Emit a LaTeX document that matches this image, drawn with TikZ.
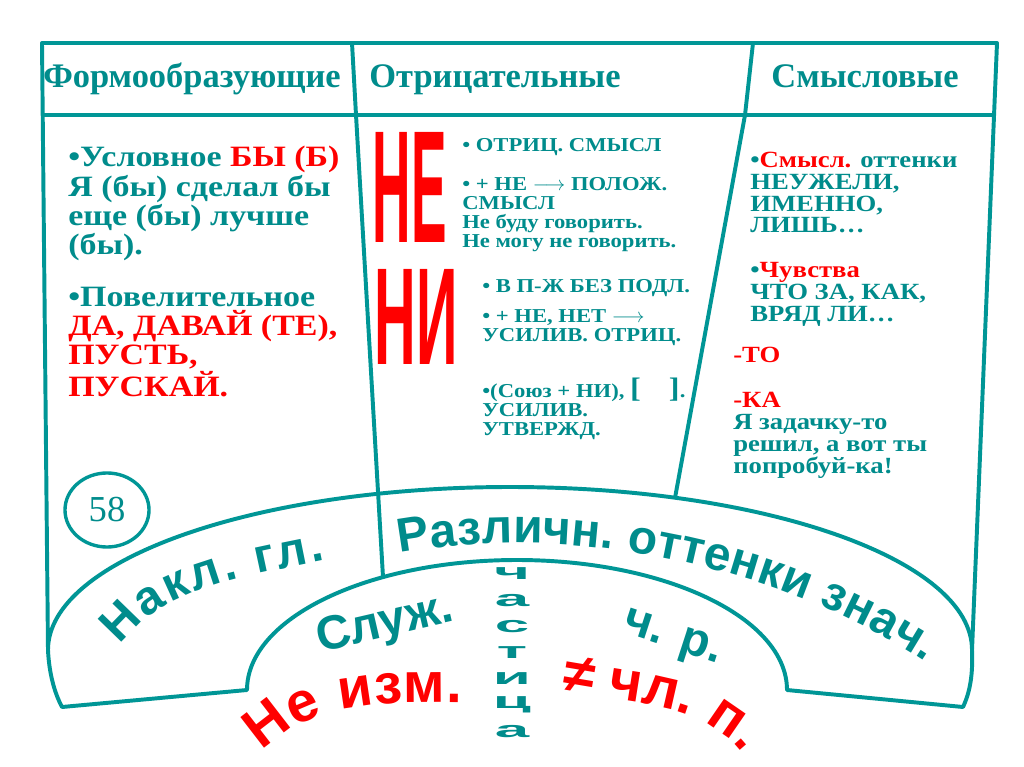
\documentclass[tikz,border=0pt]{standalone}
\usepackage{graphicx}
\usepackage{fontspec}
\setmainfont{Liberation Serif}
\setsansfont{Liberation Sans}
\newfontfamily\wideserif{Liberation Serif}[FakeStretch=1.15]
\usetikzlibrary{shapes.geometric}
\usetikzlibrary{decorations.text}
\definecolor{tealline}{RGB}{0,150,150}
\definecolor{tealtext}{RGB}{0,140,140}
\newcommand{\redw}[1]{\textcolor{red}{#1}}
\newcommand{\tealarc}{\color{tealtext}\sffamily\bfseries\fontsize{34}{34}\selectfont}
\newcommand{\redarc}{\color{red}\sffamily\bfseries\fontsize{40}{40}\selectfont}
\tikzset{
    frame/.style = {draw=tealline, line width=2.8pt, line join=round},
    head/.style = {text=tealtext, anchor=base, inner sep=0pt, font=\bfseries\fontsize{24.5}{26}\selectfont},
    body/.style = {text=tealtext, align=left, anchor=base west, inner sep=0pt},
    bigbody/.style = {body, font=\wideserif\bfseries\fontsize{21}{20.9}\selectfont},
    midbody/.style = {body, font=\wideserif\bfseries\fontsize{14}{13.5}\selectfont},
    rightbody/.style = {body, font=\wideserif\bfseries\fontsize{16.5}{15.5}\selectfont},
    bigletters/.style = {text=red, inner sep=0pt, font=\sffamily\bfseries},
    numcircle/.style = {ellipse, draw=tealline, line width=2.4pt, text=tealtext, inner sep=0pt,
        minimum width=2.1cm, minimum height=1.85cm, font=\fontsize{26}{26}\selectfont},
    arcword/.style = {text=tealtext, inner sep=0pt, font=\sffamily\bfseries\fontsize{34}{34}\selectfont},
    stackletter/.style = {text=tealtext, inner sep=0pt, font=\sffamily\bfseries\fontsize{20}{20}\selectfont}
}
\begin{document}
\begin{tikzpicture}[x=0.025cm, y=0.025cm]
\useasboundingbox (0,0) rectangle (1024,-767);
\fill[white] (0,0) rectangle (1024,-767);

% frame, header line, columns
\draw[frame] (48,-650) -- (42,-43) -- (997,-43) -- (972,-650);
\draw[frame] (42,-115) -- (995,-115);
\draw[frame] (352,-43) -- (356,-115) -- (383,-577);
\draw[frame] (753,-43) -- (745,-115) -- (675,-498);

% band at the bottom
\draw[frame] (48,-650) arc[start angle=180, end angle=0, x radius=462, y radius=163]
    .. controls (973,-675) and (970,-692) .. (963,-707) -- (787,-690)
    arc[start angle=0, end angle=180, x radius=270, y radius=130]
    -- (62,-707) .. controls (54,-692) and (49,-672) .. cycle;

% headers
\node[head] (formhead) at (192,-88) {Формообразующие};
\node[head] (neghead) at (495,-88) {Отрицательные};
\node[head] (senshead) at (865,-88) {Смысловые};

% left column (anchor = baseline of the last line)
\node[bigbody] (cond) at (68,-255) {•Условное \redw{БЫ (Б)}\\Я (бы) сделал бы\\еще (бы) лучше\\(бы).};
\node[bigbody] (imper) at (68,-396) {•Повелительное\\\redw{ДА, ДАВАЙ (ТЕ),}\\\redw{ПУСТЬ,}\\\redw{ПУСКАЙ.}};
\node[numcircle] (pagenum) at (107,-510) {58};

% middle column
\node[bigletters] (ne) at (410,-187) {\resizebox{1.85cm}{2.75cm}{НЕ}};
\node[bigletters] (ni) at (416,-317) {\resizebox{2.075cm}{2.375cm}{НИ}};
\node[midbody] (negsense) at (462,-152) {• ОТРИЦ. СМЫСЛ};
\node[midbody] (possense) at (462,-247) {• + НЕ $\longrightarrow$ ПОЛОЖ.\\СМЫСЛ\\Не буду говорить.\\Не могу не говорить.};
\node[midbody] (nosubj) at (482,-292) {• В П-Ж БЕЗ ПОДЛ.};
\node[midbody] (intens) at (482,-341) {• + НЕ, НЕТ $\longrightarrow$\\УСИЛИВ. ОТРИЦ.};
\node[midbody] (affirm) at (482,-435) {•(Союз + НИ), {\fontsize{20}{20}\selectfont[\quad]}.\\УСИЛИВ.\\УТВЕРЖД.};

% right column
\node[rightbody] (shades) at (750,-233) {•\redw{Смысл.} оттенки\\НЕУЖЕЛИ,\\ИМЕННО,\\ЛИШЬ…};
\node[rightbody] (feelings) at (750,-321) {•\redw{Чувства}\\ЧТО ЗА, КАК,\\ВРЯД ЛИ…};
\node[rightbody, text=red] (tosuffix) at (733,-362) {-ТО};
\node[rightbody] (kasuffix) at (733,-473) {\redw{-КА}\\Я задачку-то\\решил, а вот ты\\попробуй-ка!};

% words on the band
\path[decorate, decoration={text along path, text align={fit to path},
    text={|\tealarc|Накл. гл.}}]
    (120,-645) .. controls (163,-588) and (239,-578) .. (325,-560);
\path[decorate, decoration={text along path, text align={fit to path},
    text={|\tealarc|Различн. оттенки знач.}}]
    (400,-553) .. controls (571,-522) and (780,-565) .. (925,-662);
\node[arcword, rotate=13] (serv) at (385,-625) {Служ.};
\node[arcword, rotate=-18] (pos) at (672,-640) {ч. р.};
\path[decorate, decoration={text along path, text align={fit to path},
    text={|\redarc|Не изм.}}]
    (262,-752) .. controls (311,-702) and (378,-702) .. (462,-703);
\path[decorate, decoration={text along path, text align={fit to path},
    text={|\redarc|≠ чл. п.}}]
    (562,-690) .. controls (621,-702) and (699,-702) .. (738,-748);

% vertical word
\foreach \ch [count=\i] in {ч,а,с,т,и,ц,а}
    \node[stackletter] (part\i) at (512,{-574-26.2*(\i-1)}) {\scalebox{2.2}[0.8]{\ch}};
\end{tikzpicture}
\end{document}
